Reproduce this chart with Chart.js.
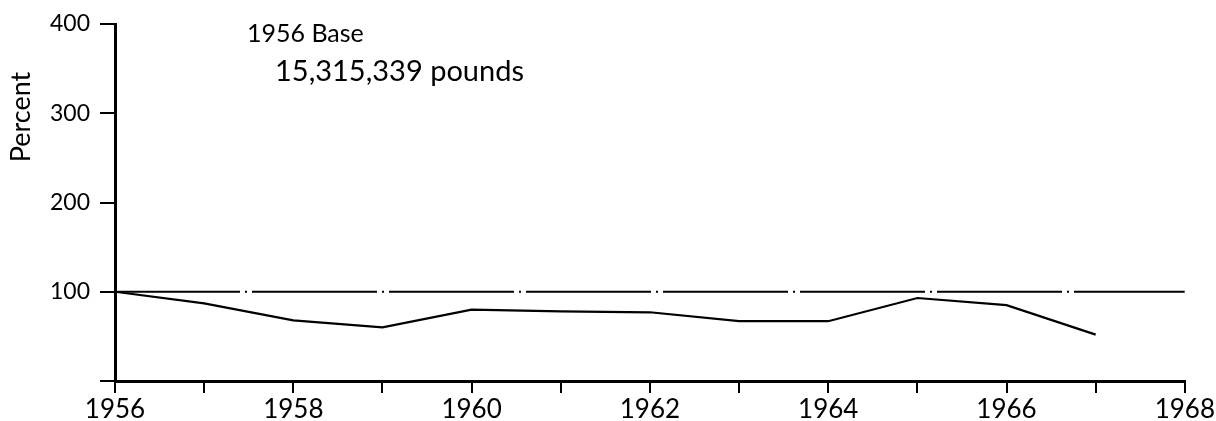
<!DOCTYPE html>
<html>
<head>
<meta charset="utf-8">
<script src="https://cdn.jsdelivr.net/npm/chart.js@4/dist/chart.umd.min.js"></script>
<style>
  html, body { margin: 0; padding: 0; background: #fff; }
  #wrap { width: 1216px; height: 421px; }
</style>
</head>
<body>
<div id="wrap"><canvas id="chart" width="1216" height="421"></canvas></div>
<script>
// Chart data
const years = [1956, 1957, 1958, 1959, 1960, 1961, 1962, 1963, 1964, 1965, 1966, 1967];
const percentValues = [100, 87, 68, 60, 80, 78, 77, 67, 67, 93, 85, 52];
const baseYears = [1956, 1968];
const baseValues = [100, 100];
const yTicks = [0, 100, 200, 300, 400];
const xRange = [1956, 1968];
const axisTitle = "Percent";
const baseNote = "1956 Base";
const poundsNote = "15,315,339 pounds";

const FONT = "Lato, 'Noto Sans', sans-serif";

// Draws the annotations and the y axis title (placed high, as in the original)
const notePlugin = {
  id: "notes",
  afterDraw(chart) {
    const ctx = chart.ctx;
    ctx.save();
    ctx.fillStyle = "#000";
    ctx.textBaseline = "alphabetic";
    ctx.font = "25px " + FONT;
    ctx.fillText(baseNote, 247, 42);
    ctx.font = "29px " + FONT;
    ctx.fillText(poundsNote, 275, 81);

    ctx.translate(30, 117);
    ctx.rotate(-Math.PI / 2);
    ctx.textAlign = "center";
    ctx.font = "27px " + FONT;
    ctx.fillText(axisTitle, 0, 0);
    ctx.restore();
  }
};

new Chart(document.getElementById("chart").getContext("2d"), {
  type: "line",
  data: {
    datasets: [
      {
        data: baseYears.map((x, i) => ({ x: x, y: baseValues[i] })),
        borderColor: "#000",
        borderWidth: 2,
        borderDash: [125, 5, 2, 5],
        pointRadius: 0,
        tension: 0
      },
      {
        data: years.map((x, i) => ({ x: x, y: percentValues[i] })),
        borderColor: "#000",
        borderWidth: 2.2,
        pointRadius: 0,
        tension: 0
      }
    ]
  },
  options: {
    responsive: false,
    animation: false,
    layout: { padding: { top: 24, right: 29 } },
    plugins: { legend: { display: false }, tooltip: { enabled: false } },
    scales: {
      x: {
        type: "linear",
        min: xRange[0],
        max: xRange[1],
        afterFit(scale) { scale.height = 40; },
        afterBuildTicks(scale) {
          scale.ticks = [];
          for (let y = xRange[0]; y <= xRange[1]; y++) scale.ticks.push({ value: y });
        },
        ticks: {
          color: "#000",
          font: { family: FONT, size: 26 },
          padding: 1,
          maxRotation: 0,
          autoSkip: false,
          callback: v => (v % 2 === 0 ? String(v) : "")
        },
        grid: { drawOnChartArea: false, tickLength: 12, color: "#000", lineWidth: 2 },
        border: { color: "#000", width: 3 }
      },
      y: {
        min: 0,
        max: 400,
        afterFit(scale) { scale.width = 115; },
        afterBuildTicks(scale) { scale.ticks = yTicks.map(v => ({ value: v })); },
        ticks: {
          color: "#000",
          font: { family: FONT, size: 23 },
          padding: 10,
          callback: v => (v === 0 ? "" : String(v))
        },
        grid: { drawOnChartArea: false, tickLength: 15, color: "#000", lineWidth: 2 },
        border: { color: "#000", width: 3 }
      }
    }
  },
  plugins: [notePlugin]
});
</script>
</body>
</html>
